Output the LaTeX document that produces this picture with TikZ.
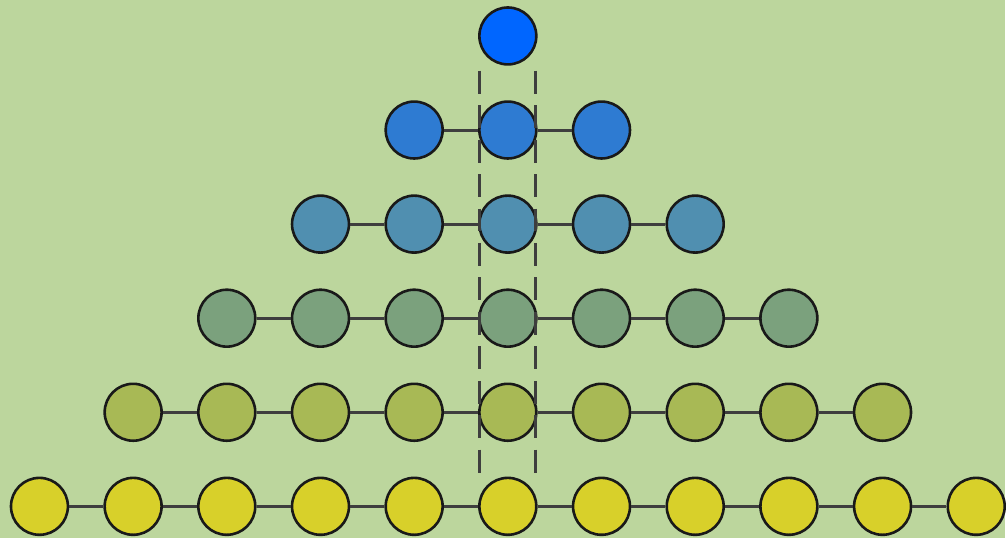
\documentclass[tikz,border=0pt]{standalone}
\usetikzlibrary{positioning}

\definecolor{bggreen}{RGB}{188,214,157}
\definecolor{linkgray}{RGB}{62,62,62}
\definecolor{rowA}{RGB}{0,102,255}
\definecolor{rowB}{RGB}{46,123,210}
\definecolor{rowC}{RGB}{80,143,176}
\definecolor{rowD}{RGB}{123,161,125}
\definecolor{rowE}{RGB}{168,185,85}
\definecolor{rowF}{RGB}{216,208,42}

\begin{document}
\begin{tikzpicture}[
    x=1pt,
    y=1pt,
    dot/.style={
        circle,
        draw=black!90,
        line width=2.6pt,
        inner sep=0pt,
        minimum size=57pt
    },
    link/.style={
        draw=linkgray,
        line width=3pt
    },
    guide/.style={
        draw=linkgray,
        line width=3pt,
        dash pattern=on 23pt off 11.5pt
    }
]

% Background and frame
\path[fill=bggreen] (0,0) rectangle (1006,539);

% Dots, one row per level
\foreach \r/\col in {0/rowA,1/rowB,2/rowC,3/rowD,4/rowE,5/rowF} {
    \pgfmathtruncatemacro\last{2*\r}
    \foreach \k in {0,...,\last} {
        \node[dot, fill=\col] (n-\r-\k)
            at ({508.5+93.8*(\k-\r)}, {503-94.2*\r}) {};
    }
}

% Links inside each row
\foreach \r in {1,...,5} {
    \pgfmathtruncatemacro\last{2*\r}
    \foreach \k [remember=\k as \prev (initially 0)] in {1,...,\last} {
        \draw[link] (n-\r-\prev) -- (n-\r-\k);
    }
}

% Dashed guides along the centre column
\draw[guide]
    ([xshift=-28pt, yshift=-5pt]n-0-0.south)
    -- ([xshift=-28pt]n-5-5.north);
\draw[guide]
    ([xshift=28pt, yshift=-5pt]n-0-0.south)
    -- ([xshift=28pt]n-5-5.north);

\end{tikzpicture}
\end{document}
